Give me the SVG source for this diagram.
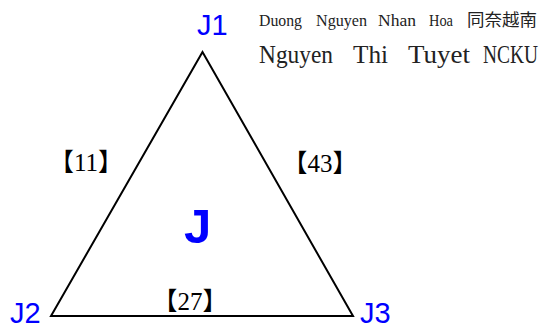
<svg xmlns="http://www.w3.org/2000/svg" width="544" height="324" viewBox="0 0 544 324">
<style>
.lbl{font-family:"Liberation Sans",Arial,sans-serif;fill:#0000ff}
.w{font-family:"Liberation Serif","Noto Sans CJK TC",serif;fill:#222}
.e{font-family:"Liberation Serif","Noto Sans CJK TC",serif;font-size:25px;fill:#000;text-anchor:middle}
</style>
<rect width="544" height="324" fill="#fff"/>
<g id="connectors">
<polygon points="202.5,52 51,316 353,316" fill="none" stroke="#000" stroke-width="2" stroke-linejoin="miter"/>
</g>
<g id="J1"><text class="lbl" x="197" y="35" font-size="29">J1</text></g>
<g id="J2"><text class="lbl" x="10" y="323" font-size="29">J2</text></g>
<g id="J3"><text class="lbl" x="360" y="323" font-size="29">J3</text></g>
<g id="J"><text class="lbl" x="184" y="243" font-size="49" font-weight="bold">J</text></g>
<g id="edge-labels">
<text class="e" x="86" y="171">【11】</text>
<text class="e" x="320" y="172">【43】</text>
<text class="e" x="190" y="310">【27】</text>
</g>
<g id="authors">
<text class="w" y="26" font-size="17">
<tspan x="259" textLength="43" lengthAdjust="spacingAndGlyphs">Duong</tspan>
<tspan x="316" textLength="51" lengthAdjust="spacingAndGlyphs">Nguyen</tspan>
<tspan x="378" textLength="38" lengthAdjust="spacingAndGlyphs">Nhan</tspan>
<tspan x="429" textLength="24" lengthAdjust="spacingAndGlyphs">Hoa</tspan>
<tspan x="467" textLength="70" lengthAdjust="spacingAndGlyphs">同奈越南</tspan>
</text>
<text class="w" y="63" font-size="26">
<tspan x="259" textLength="74" lengthAdjust="spacingAndGlyphs">Nguyen</tspan>
<tspan x="353" textLength="35" lengthAdjust="spacingAndGlyphs">Thi</tspan>
<tspan x="408" textLength="62" lengthAdjust="spacingAndGlyphs">Tuyet</tspan>
<tspan x="483" textLength="55" lengthAdjust="spacingAndGlyphs">NCKU</tspan>
</text>
</g>
</svg>
